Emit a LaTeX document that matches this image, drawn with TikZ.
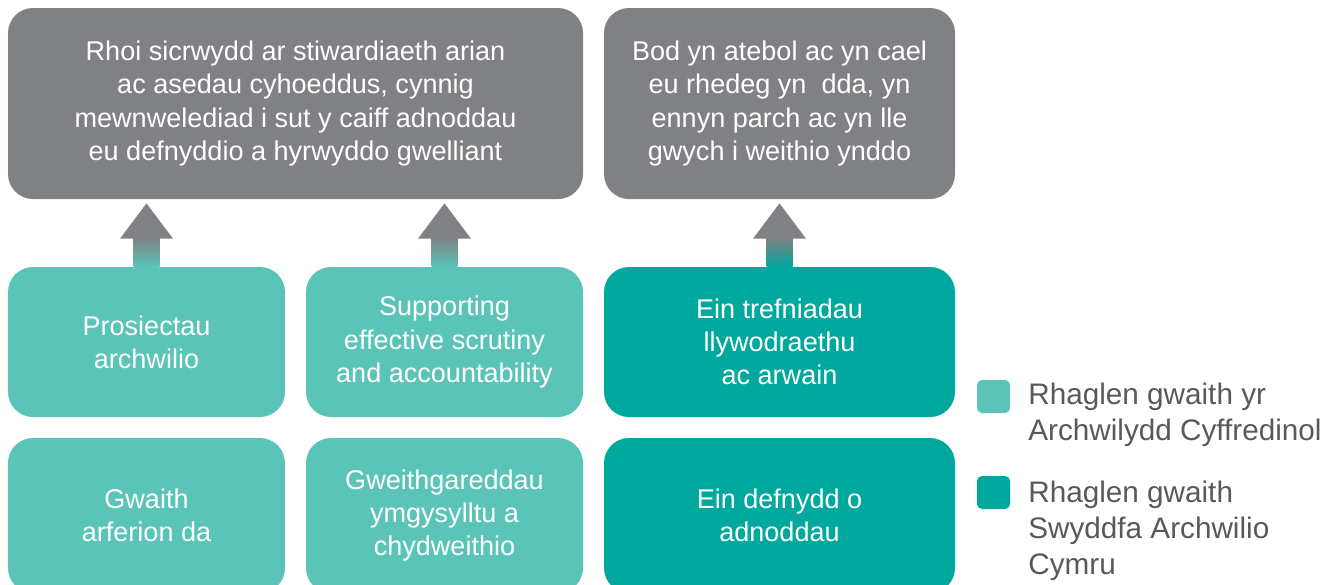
\documentclass[tikz,border=0pt]{standalone}
\usepackage{fontspec}
\setmainfont{Liberation Sans}
\usetikzlibrary{calc}

\definecolor{cgrey}{HTML}{808184}
\definecolor{clight}{HTML}{5BC4B8}
\definecolor{cdark}{HTML}{00A89E}
\definecolor{ctext}{HTML}{58595B}

\begin{document}
\begin{tikzpicture}[
	box/.style={rounded corners=0.5cm, inner sep=0pt, align=center, text=white,
		font=\fontsize{15.4}{18.8}\selectfont},
	toprow/.style={box, fill=cgrey, minimum height=3.82cm},
	midrow/.style={box, minimum width=5.54cm, minimum height=3cm},
	keybox/.style={rounded corners=0.1cm, minimum size=0.66cm, inner sep=0pt},
	keytext/.style={anchor=west, align=left, text=ctext, inner sep=0pt,
		font=\fontsize{16.9}{20.6}\selectfont}
]
	%\draw[help lines] (0,0) grid (27,-12);
	\useasboundingbox (0,0) rectangle (26.72,-11.68);

	% obere Reihe
	\node [toprow, minimum width=11.5cm] (aim) at (5.91,-2.07)
		{Rhoi sicrwydd ar stiwardiaeth arian\\ac asedau cyhoeddus, cynnig\\mewnwelediad i sut y caiff adnoddau\\eu defnyddio a hyrwyddo gwelliant};
	\node [toprow, minimum width=7.02cm] (org) at (15.59,-2.07)
		{Bod yn atebol ac yn cael\\eu rhedeg yn~~dda, yn\\ennyn parch ac yn lle\\gwych i weithio ynddo};

	% mittlere Reihe
	\node [midrow, fill=clight] (audit) at (2.93,-6.84) {Prosiectau\\archwilio};
	\node [midrow, fill=clight] (scrut) at (8.89,-6.84) {Supporting\\effective scrutiny\\and accountability};
	\node [midrow, fill=cdark, minimum width=7.02cm] (gov) at (15.59,-6.84) {Ein trefniadau\\llywodraethu\\ac arwain};

	% untere Reihe
	\node [midrow, fill=clight, minimum height=3.1cm] (good) at (2.93,-10.31) {Gwaith\\arferion da};
	\node [midrow, fill=clight, minimum height=3.1cm] (engage) at (8.89,-10.31) {Gweithgareddau\\ymgysylltu a\\chydweithio};
	\node [midrow, fill=cdark, minimum width=7.02cm, minimum height=3.1cm] (res) at (15.59,-10.31) {Ein defnydd o\\adnoddau};

	% Pfeile nach oben
	\foreach \from/\to/\col in {audit/aim/clight, scrut/aim/clight, gov/org/cdark} {
		\shade [top color=cgrey, bottom color=\col]
			($(\from.north)+(-0.26,0)$) rectangle ($(\from.north)+(0.26,0.58)$);	% Schaft
		\fill [cgrey] ($(\from.north)+(-0.53,0.56)$) -- ($(\from.north)+(0.53,0.56)$)
			-- ($(\from.north |- \to.south)+(0,-0.08)$) -- cycle;					% Spitze
	}

	% Legende
	\node [keybox, fill=clight] (keyA) at (19.87,-7.93) {};
	\node [keybox, fill=cdark] (keyB) at (19.87,-9.85) {};
	\node [keytext] (labA) at (20.56,-8.3) {Rhaglen gwaith yr\\Archwilydd Cyffredinol};
	\node [keytext] (labB) at (20.56,-10.62) {Rhaglen gwaith\\Swyddfa Archwilio\\Cymru};

\end{tikzpicture}
\end{document}
